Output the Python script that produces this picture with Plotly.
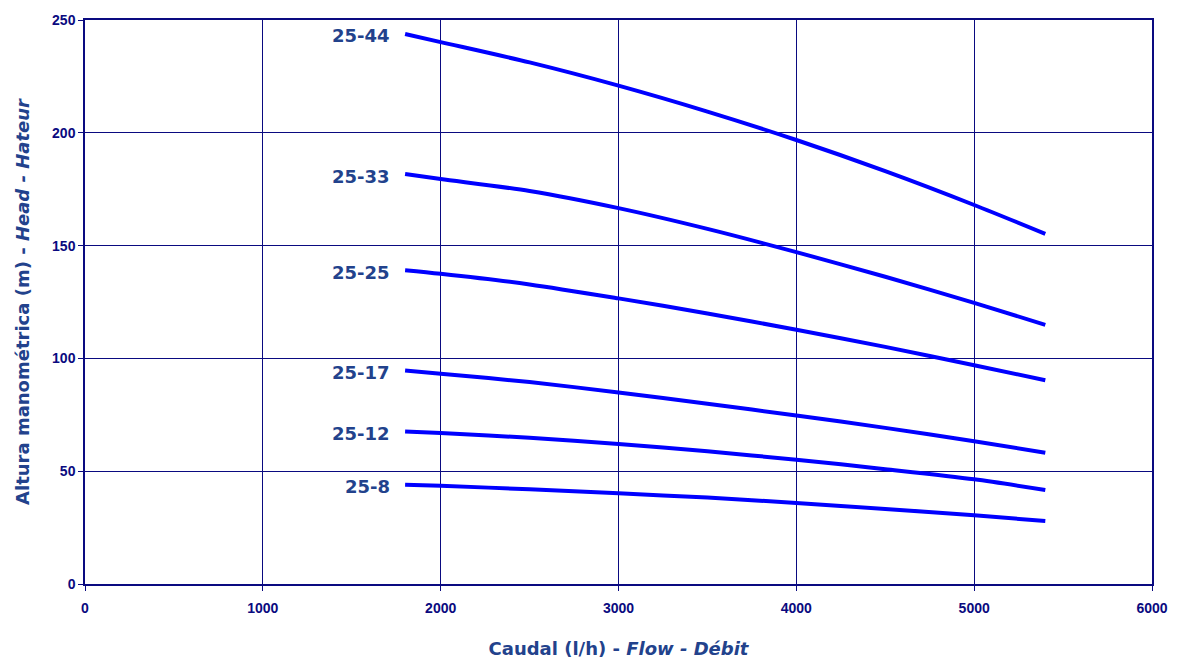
import plotly.graph_objects as go

flow = [1800, 2000, 2500, 3000, 3500, 4000, 4500, 5000, 5400]
models = ["25-44", "25-33", "25-25", "25-17", "25-12", "25-8"]
head_25_44 = [243.8, 240.2, 231.2, 220.9, 209.4, 196.8, 183.0, 168.0, 155.2]
head_25_33 = [181.7, 179.5, 174.2, 166.6, 157.4, 147.1, 136.2, 124.6, 114.9]
head_25_25 = [139.1, 137.5, 132.8, 126.6, 119.9, 112.7, 105.1, 97.0, 90.3]
head_25_17 = [94.6, 93.2, 89.5, 84.9, 79.9, 74.7, 69.2, 63.3, 58.2]
head_25_12 = [67.6, 66.9, 64.8, 62.1, 58.8, 55.1, 50.9, 46.4, 41.7]
head_25_8 = [44.0, 43.5, 42.0, 40.2, 38.3, 35.9, 33.3, 30.5, 27.9]
heads = [head_25_44, head_25_33, head_25_25, head_25_17, head_25_12, head_25_8]

x_ticks = [0, 1000, 2000, 3000, 4000, 5000, 6000]
y_ticks = [0, 50, 100, 150, 200, 250]

navy = "#0A0A80"
title_col = "#22428C"

fig = go.Figure()
for name, h in zip(models, heads):
    fig.add_trace(go.Scatter(x=flow, y=h, mode="lines", name=name,
                             line=dict(color="#0000FF", width=4, shape="spline", smoothing=0.8),
                             showlegend=False, hoverinfo="x+y+name"))
    fig.add_annotation(x=flow[0], y=h[0], xref="x", yref="y", text="<b>" + name + "</b>",
                       showarrow=False, xanchor="right", yanchor="middle",
                       xshift=-13, yshift=-2,
                       font=dict(family="DejaVu Sans", size=18, color=title_col))

axis_common = dict(showgrid=True, gridcolor=navy, gridwidth=1,
                   showline=True, linecolor=navy, linewidth=1.5, mirror=True,
                   ticks="outside", ticklen=5, tickcolor=navy,
                   zeroline=False,
                   tickfont=dict(family="Liberation Sans", size=14, color=navy, weight="bold"))

fig.update_xaxes(range=[0, 6000], tickvals=x_ticks, ticktext=[str(v) for v in x_ticks],
                 ticklabelstandoff=5,
                 title=dict(text="<b>Caudal (l/h) - <i>Flow - Débit</i></b>",
                            font=dict(family="DejaVu Sans", size=18, color=title_col),
                            standoff=28),
                 **axis_common)
fig.update_yaxes(range=[0, 250], tickvals=y_ticks, ticktext=[str(v) for v in y_ticks],
                 ticklabeloverflow="allow",
                 title=dict(text="<b>Altura manométrica (m) - <i>Head - Hateur</i></b>",
                            font=dict(family="DejaVu Sans", size=18, color=title_col),
                            standoff=18),
                 **axis_common)

fig.update_layout(width=1180, height=668,
                  margin=dict(l=85, r=23, t=14, b=77),
                  plot_bgcolor="white", paper_bgcolor="white")

fig.write_html("out.html", config={"displayModeBar": False},
               post_script="document.body.style.margin='0';document.body.style.padding='0';")
